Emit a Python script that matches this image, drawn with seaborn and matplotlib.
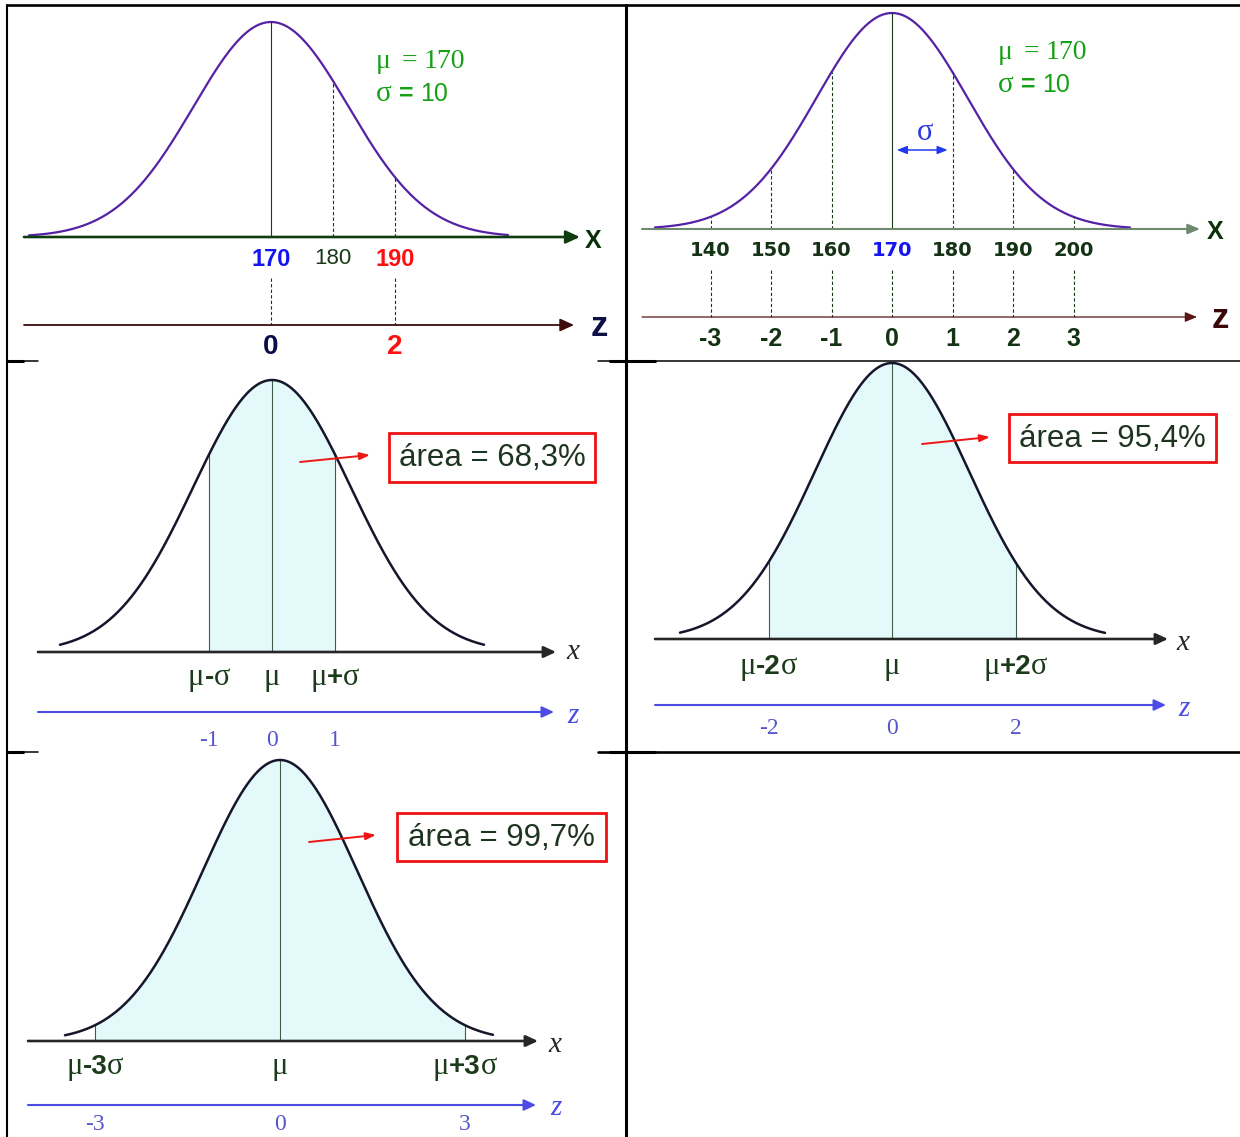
import numpy as np
import pandas as pd
import matplotlib
matplotlib.use("Agg")
import matplotlib.pyplot as plt
import seaborn as sns
from matplotlib import transforms
from matplotlib.patches import Rectangle

# ---------------- data ----------------
MU = 170
SIGMA = 10
HEIGHT_TICKS = [140, 150, 160, 170, 180, 190, 200]
Z_TICKS = [-3, -2, -1, 0, 1, 2, 3]
EXAMPLE_HEIGHTS = [170, 180, 190]
EXAMPLE_Z = [0, 2]
BAND_K = [1, 2, 3]
BAND_AREA = [68.3, 95.4, 99.7]

# the bell is drawn a little wider than the sigma spacing of the ticks
SPREAD = 1.25

# ---------------- style ----------------
W, H = 1240, 1137
sns.set_theme(style="white")
plt.rcParams["font.family"] = ["Liberation Sans", "DejaVu Sans"]
SANS, SERIF, DEJA = "Liberation Sans", "Liberation Serif", "DejaVu Sans"

PURPLE = "#5522a6"
DKGREEN = "#173a17"
GREEN = "#16a016"
BLUE = "#1414f0"
RED = "#ff1010"
NAVY = "#0c0c4a"
CURVE = "#15152c"
FILL = "#e4fafa"
ZBLUE = "#4b4be6"
ZTXT = "#5656cc"
LABEL = "#1b3b1b"

fig = plt.figure(figsize=(W / 100, H / 100), dpi=100)
fig.patch.set_facecolor("white")
renderer = fig.canvas.get_renderer()


def bell(x, mu, sd):
    return np.exp(-0.5 * ((np.asarray(x, float) - mu) / (sd * SPREAD)) ** 2)


class Panel:
    """Axes covering one table cell, in data units, with pixel helpers for layout."""

    def __init__(self, cell, cx_px, cx_val, ppu, base_px, peak_px):
        L, T, R, B = cell
        self.cx_px, self.cx_val, self.ppu = cx_px, cx_val, ppu
        self.base, self.h = base_px, base_px - peak_px
        self.ax = fig.add_axes([L / W, 1 - B / H, (R - L) / W, (B - T) / H])
        self.ax.set_xlim(self.xv(L), self.xv(R))
        self.ax.set_ylim(self.yv(B), self.yv(T))
        self.ax.set_axis_off()
        self.ax.patch.set_alpha(0)

    def xv(self, px):
        return self.cx_val + (px - self.cx_px) / self.ppu

    def yv(self, py):
        return (self.base - py) / self.h


def axis_arrow(ax, x0, x1, y, color, lw, hl=0.7, hw=0.32):
    ax.annotate("", xy=(x1, y), xytext=(x0, y),
                arrowprops=dict(arrowstyle=f"-|>,head_length={hl},head_width={hw}",
                                color=color, lw=lw, shrinkA=0, shrinkB=0))


def rich(ax, x, y, parts, ha="center"):
    """Text pieces in different fonts set side by side on one baseline."""
    items = []
    for s, kw in parts:
        if s is None:
            items.append((None, kw))
            continue
        t = ax.text(x, y, s, ha="left", va="baseline", **kw)
        items.append((t, t.get_window_extent(renderer).width))
    total = sum(w for _, w in items)
    off = -total / 2 if ha == "center" else 0.0
    for t, w in items:
        if t is not None:
            t.set_transform(transforms.offset_copy(ax.transData, fig=fig, x=off, y=0, units="dots"))
        off += w


def mu_sigma_block(p, left_px, base1, base2):
    ax = p.ax
    rich(ax, p.xv(left_px), p.yv(base1),
         [("μ", dict(family=SERIF, size=20, color=GREEN)), (None, 11),
          ("=", dict(family=SERIF, size=20, color=GREEN)), (None, 6),
          ("170", dict(family=SERIF, size=20, color=GREEN))], ha="left")
    rich(ax, p.xv(left_px), p.yv(base2),
         [("σ", dict(family=SERIF, size=21, color=GREEN)), (None, 7),
          ("=", dict(family=SANS, size=18, weight="bold", color=GREEN)), (None, 7),
          ("10", dict(family=SANS, size=18, color=GREEN))], ha="left")


# ---------------- table frame ----------------
frame = fig.add_axes([0, 0, 1, 1])
frame.set_xlim(0, W)
frame.set_ylim(H, 0)
frame.set_axis_off()
frame.patch.set_alpha(0)
K = "black"
frame.plot([7, 1240], [5, 5], color=K, lw=1.9)
frame.plot([7, 7], [5, 1137], color=K, lw=1.5)
frame.plot([626, 626], [5, 1137], color=K, lw=2.2)
for yy, thin in ((361, 1.1), (752, 1.9)):
    frame.plot([598, 1240], [yy, yy], color=K, lw=thin)
    frame.plot([610, 655], [yy, yy], color=K, lw=2.2)
    frame.plot([7, 38], [yy, yy], color=K, lw=1.1)
    frame.plot([7, 23], [yy, yy], color=K, lw=2.2)

# ---------------- panel 1: x -> z example ----------------
p1 = Panel((0, 0, 626, 360), cx_px=271, cx_val=MU, ppu=6.2, base_px=237, peak_px=22)
ax = p1.ax
xs = np.linspace(p1.xv(29), p1.xv(508), 500)
sns.lineplot(data=pd.DataFrame({"altura": xs, "densidade": bell(xs, MU, SIGMA)}),
             x="altura", y="densidade", ax=ax, color=PURPLE, lw=1.6, legend=False)
ax.plot([MU, MU], [0, 1], color=DKGREEN, lw=0.8)
for v in EXAMPLE_HEIGHTS[1:]:
    ax.plot([v, v], [0, bell(v, MU, SIGMA)], color=DKGREEN, lw=0.8, dashes=(3, 2))
axis_arrow(ax, p1.xv(24), p1.xv(580), 0, "#0f3d0f", 1.9)
ax.text(p1.xv(593), p1.yv(241), "X", ha="center", va="center", size=18,
        weight="bold", color="#0c300c", family=SANS)
tick_style = [dict(color=BLUE, weight="bold", size=17), dict(color=DKGREEN, weight="normal", size=16),
              dict(color=RED, weight="bold", size=17)]
for v, st in zip(EXAMPLE_HEIGHTS, tick_style):
    ax.text(v, p1.yv(259), str(v), ha="center", va="center", family=SANS, **st)
for zv in EXAMPLE_Z:
    v = MU + zv * SIGMA
    ax.plot([v, v], [p1.yv(278), p1.yv(325)], color=DKGREEN, lw=0.8, dashes=(3, 2))
axis_arrow(ax, p1.xv(24), p1.xv(574), p1.yv(325), "#3d0d0d", 1.3)
ax.text(p1.xv(599), p1.yv(326), "z", ha="center", va="center", size=25,
        weight="bold", color="#101048", family=SANS)
for zv, col in zip(EXAMPLE_Z, [NAVY, RED]):
    ax.text(MU + zv * SIGMA, p1.yv(347), str(zv), ha="center", va="center",
            size=20, weight="bold", color=col, family=SANS)
mu_sigma_block(p1, 376, 68, 101)

# ---------------- panel 2: full scale ----------------
p2 = Panel((626, 0, 1240, 360), cx_px=892, cx_val=MU, ppu=6.05, base_px=229, peak_px=13)
ax = p2.ax
xs = np.linspace(p2.xv(655), p2.xv(1130), 500)
sns.lineplot(data=pd.DataFrame({"altura": xs, "densidade": bell(xs, MU, SIGMA)}),
             x="altura", y="densidade", ax=ax, color=PURPLE, lw=1.6, legend=False)
for v in HEIGHT_TICKS:
    if v == MU:
        ax.plot([v, v], [0, 1], color=DKGREEN, lw=0.8)
    else:
        ax.plot([v, v], [0, bell(v, MU, SIGMA)], color=DKGREEN, lw=0.8, dashes=(3, 2))
axis_arrow(ax, p2.xv(642), p2.xv(1200), 0, "#6e8a6e", 1.5, hl=0.6, hw=0.25)
ax.text(p2.xv(1215), p2.yv(232), "X", ha="center", va="center", size=18,
        weight="bold", color="#0c300c", family=SANS)
for v in HEIGHT_TICKS:
    ax.text(v, p2.yv(251), str(v), ha="center", va="center", family=DEJA, size=14,
            weight="bold", color=BLUE if v == MU else "#143214")
for zv in Z_TICKS:
    v = MU + zv * SIGMA
    ax.plot([v, v], [p2.yv(270), p2.yv(317)], color=DKGREEN, lw=0.8, dashes=(3, 2))
    ax.text(v, p2.yv(339), str(zv), ha="center", va="center", family=SANS, size=18,
            weight="bold", color="#143214")
axis_arrow(ax, p2.xv(642), p2.xv(1197), p2.yv(317), "#5a1414", 0.9, hl=0.6, hw=0.25)
ax.text(p2.xv(1220), p2.yv(319), "z", ha="center", va="center", size=25,
        weight="bold", color="#3a0808", family=SANS)
mu_sigma_block(p2, 998, 59, 92)
ax.annotate("", xy=(MU + 0.92 * SIGMA, p2.yv(150)), xytext=(MU + 0.08 * SIGMA, p2.yv(150)),
            arrowprops=dict(arrowstyle="<|-|>,head_length=0.5,head_width=0.2",
                            color="#2038f0", lw=1.1, shrinkA=0, shrinkB=0))
ax.text(MU + 0.55 * SIGMA, p2.yv(133), "σ", ha="center", va="center", family=SERIF,
        size=22, color="#2a3ae0")

# ---------------- panels 3-5: empirical rule ----------------
BAND_LAYOUT = [
    dict(cell=(0, 360, 626, 752), cx=272, ppu=63.0, base=652, peak=380, curve=(60, 484),
         axis=(38, 556), zline=712, xlab=685, zlab=740, box=(389, 433, 595, 482),
         arrow=((300, 462), (370, 455)), xch=(573, 652), zch=(573, 716)),
    dict(cell=(626, 360, 1240, 752), cx=892, ppu=61.75, base=639, peak=363, curve=(680, 1105),
         axis=(655, 1168), zline=705, xlab=674, zlab=729, box=(1009, 414, 1216, 462),
         arrow=((922, 444), (990, 437)), xch=(1183, 643), zch=(1184, 709)),
    dict(cell=(0, 752, 626, 1137), cx=280, ppu=61.67, base=1041, peak=760, curve=(65, 493),
         axis=(28, 538), zline=1105, xlab=1074, zlab=1124, box=(397, 813, 606, 861),
         arrow=((309, 842), (376, 835)), xch=(555, 1045), zch=(556, 1108)),
]

for k, area, lay in zip(BAND_K, BAND_AREA, BAND_LAYOUT):
    p = Panel(lay["cell"], cx_px=lay["cx"], cx_val=0.0, ppu=lay["ppu"],
              base_px=lay["base"], peak_px=lay["peak"])
    ax = p.ax
    zs = np.linspace(p.xv(lay["curve"][0]), p.xv(lay["curve"][1]), 500)
    zb = np.linspace(-k, k, 300)
    ax.fill_between(zb, 0, bell(zb, 0, 1), color=FILL, lw=0, zorder=0)
    sns.lineplot(data=pd.DataFrame({"z": zs, "densidade": bell(zs, 0, 1)}),
                 x="z", y="densidade", ax=ax, color=CURVE, lw=1.8, legend=False, zorder=3)
    for v in (-k, 0, k):
        ax.plot([v, v], [0, bell(v, 0, 1)], color="#3e5e4a", lw=0.8, zorder=2)
    axis_arrow(ax, p.xv(lay["axis"][0]), p.xv(lay["axis"][1]), 0, "#262626", 1.9, hl=0.6, hw=0.28)
    ax.text(p.xv(lay["xch"][0]), p.yv(lay["xch"][1]), "x", ha="center", va="center",
            family=SERIF, style="italic", size=21, color="#262626")
    axis_arrow(ax, p.xv(lay["axis"][0]), p.xv(lay["axis"][1] - 2), p.yv(lay["zline"]),
               ZBLUE, 1.5, hl=0.6, hw=0.28)
    ax.text(p.xv(lay["zch"][0]), p.yv(lay["zch"][1]), "z", ha="center", va="center",
            family=SERIF, style="italic", size=21, color=ZBLUE)

    # mu +/- k sigma labels
    mu_kw = dict(family=SERIF, size=22, color=LABEL)
    op_kw = dict(family=SANS, size=20, weight="bold", color=LABEL)
    coef = "" if k == 1 else str(k)
    yb = p.yv(lay["xlab"])
    rich(ax, -k, yb, [("μ", mu_kw), ("-" + coef, op_kw), ("σ", mu_kw)])
    rich(ax, 0, yb, [("μ", mu_kw)])
    rich(ax, k, yb, [("μ", mu_kw), ("+" + coef, op_kw), ("σ", mu_kw)])

    for zv in (-k, 0, k):
        ax.text(zv, p.yv(lay["zlab"]), str(zv), ha="center", va="center",
                family=SERIF, size=17, color=ZTXT)

    L, T, R, B = lay["box"]
    ax.add_patch(Rectangle((p.xv(L), p.yv(B)), (R - L) / p.ppu, (B - T) / p.h,
                           facecolor="white", edgecolor="#ee1111", lw=2.0, zorder=4))
    ax.text(p.xv((L + R) / 2), p.yv((T + B) / 2 + 1),
            "área = " + f"{area:.1f}".replace(".", ",") + "%",
            ha="center", va="center", family=SANS, size=22.5, color="#1e3421", zorder=5)
    (ax0, ay0), (ax1, ay1) = lay["arrow"]
    ax.annotate("", xy=(p.xv(ax1), p.yv(ay1)), xytext=(p.xv(ax0), p.yv(ay0)),
                arrowprops=dict(arrowstyle="-|>,head_length=0.5,head_width=0.18",
                                color="#ee1515", lw=1.4, shrinkA=0, shrinkB=0), zorder=6)

fig.savefig("out.png", dpi=100, facecolor="white")
